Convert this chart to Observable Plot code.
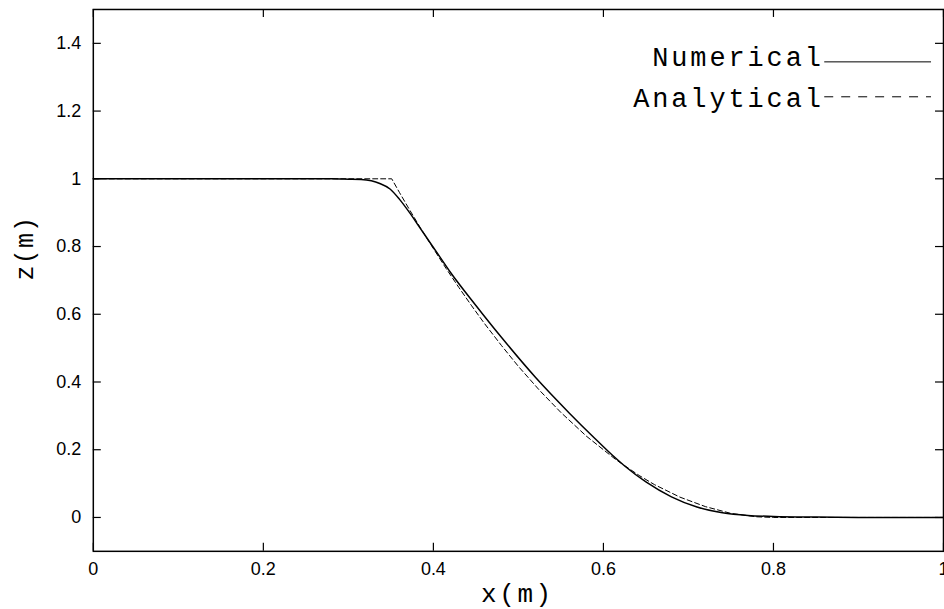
<!DOCTYPE html>
<html>
<head>
<meta charset="utf-8">
<script src="https://cdn.jsdelivr.net/npm/d3@7"></script>
<script src="https://cdn.jsdelivr.net/npm/@observablehq/plot@0.6"></script>
<style>
  html, body { margin: 0; padding: 0; background: #fff; overflow: hidden; }
  #chart { position: relative; width: 944px; height: 609px; overflow: hidden; }
</style>
</head>
<body>
<div id="chart"></div>
<script>
// ---- data ----
const numX = [0, 0.28, 0.30, 0.315, 0.327, 0.337, 0.349, 0.360, 0.372, 0.384, 0.396, 0.408, 0.42, 0.45, 0.48, 0.52, 0.56, 0.59, 0.61, 0.625, 0.65, 0.68, 0.71, 0.74, 0.77, 0.80, 0.85, 0.90, 1.0];
const numZ = [1, 1, 0.999, 0.998, 0.994, 0.986, 0.970, 0.940, 0.900, 0.856, 0.812, 0.768, 0.724, 0.626, 0.532, 0.414, 0.308, 0.233, 0.185, 0.152, 0.105, 0.061, 0.031, 0.014, 0.006, 0.003, 0.001, 0, 0];

const anaX = [0, 0.351, 0.36, 0.37, 0.385, 0.40, 0.415, 0.43, 0.445, 0.46, 0.48, 0.50, 0.525, 0.55, 0.58, 0.615, 0.642, 0.66, 0.69, 0.72, 0.75, 0.78, 0.80, 1.0];
const anaZ = [1, 1, 0.960, 0.917, 0.854, 0.794, 0.735, 0.679, 0.625, 0.573, 0.508, 0.446, 0.375, 0.310, 0.240, 0.170, 0.124, 0.097, 0.060, 0.032, 0.012, 0.002, 0, 0];

const xTicks = [0, 0.2, 0.4, 0.6, 0.8, 1];
const yTicks = [0, 0.2, 0.4, 0.6, 0.8, 1, 1.2, 1.4];
const seriesNames = ["Numerical", "Analytical"];
const xLabel = "x(m)";
const yLabel = "z(m)";

const numerical = numX.map((x, i) => ({x, z: numZ[i]}));
const analytical = anaX.map((x, i) => ({x, z: anaZ[i]}));

// ---- layout ----
const W = 946, H = 609;
const mL = 93, mR = 1, mT = 9, mB = 57;
const pw = W - mL - mR, ph = H - mT - mB;
const tick = 8;
const mono = "Liberation Mono, Courier New, monospace";

const chart = Plot.plot({
  width: W, height: H,
  marginLeft: mL, marginRight: mR, marginTop: mT, marginBottom: mB,
  x: {domain: [0, 1]},
  y: {domain: [-0.1, 1.5]},
  style: {fontFamily: "Liberation Sans, Arial, sans-serif", fontSize: "18px", color: "black", background: "white", overflow: "visible"},
  marks: [
    Plot.axisX(xTicks, {tickSize: 0, tickPadding: 11, tickFormat: d => String(d), label: null, fontSize: 18}),
    Plot.axisY(yTicks, {tickSize: 0, tickPadding: 12, tickFormat: d => String(d), label: null, fontSize: 18}),
    Plot.ruleX(xTicks, {x: d => d, insetTop: ph - tick, stroke: "black", strokeWidth: 1.2}),
    Plot.ruleX(xTicks, {x: d => d, insetBottom: ph - tick, stroke: "black", strokeWidth: 1.2}),
    Plot.ruleY(yTicks, {y: d => d, insetRight: pw - tick, stroke: "black", strokeWidth: 1.2}),
    Plot.ruleY(yTicks, {y: d => d, insetLeft: pw - tick, stroke: "black", strokeWidth: 1.2}),
    Plot.line(analytical, {x: "x", y: "z", stroke: "black", strokeWidth: 1, strokeDasharray: "5,3"}),
    Plot.line(numerical, {x: "x", y: "z", stroke: "black", strokeWidth: 1.5, curve: "monotone-x"}),
    Plot.frame({stroke: "black", strokeWidth: 1.5}),
    Plot.text([xLabel], {text: d => d, frameAnchor: "bottom", dx: -1, dy: 51, fontFamily: mono, fontSize: 26}),
    Plot.text([yLabel], {text: d => d, frameAnchor: "left", rotate: -90, dx: -68, fontFamily: mono, fontSize: 25}),
    Plot.text([seriesNames[0]], {text: d => d, frameAnchor: "top-right", textAnchor: "end", lineAnchor: "middle", dx: -120, dy: 47.5, fontFamily: mono, fontSize: 27}),
    Plot.text([seriesNames[1]], {text: d => d, frameAnchor: "top-right", textAnchor: "end", lineAnchor: "middle", dx: -120, dy: 89.5, fontFamily: mono, fontSize: 27})
  ]
});

const svg = d3.select(chart);
// monospace letter spacing (as in the reference's wide typewriter text)
const spacing = {[seriesNames[0]]: "2.9px", [seriesNames[1]]: "2.9px", [xLabel]: "2.6px", [yLabel]: "1.2px"};
svg.selectAll("text").each(function () {
  const t = this.textContent;
  if (t in spacing) d3.select(this).style("letter-spacing", spacing[t]);
});

// legend line samples
const lx1 = mL + pw - 119, lx2 = mL + pw - 12;
svg.append("line").attr("x1", lx1).attr("x2", lx2).attr("y1", 62).attr("y2", 62)
  .attr("stroke", "black").attr("stroke-width", 1);
svg.append("line").attr("x1", lx1).attr("x2", lx2).attr("y1", 97).attr("y2", 97)
  .attr("stroke", "black").attr("stroke-width", 1).attr("stroke-dasharray", "9,8");

document.getElementById("chart").appendChild(chart);
</script>
</body>
</html>
